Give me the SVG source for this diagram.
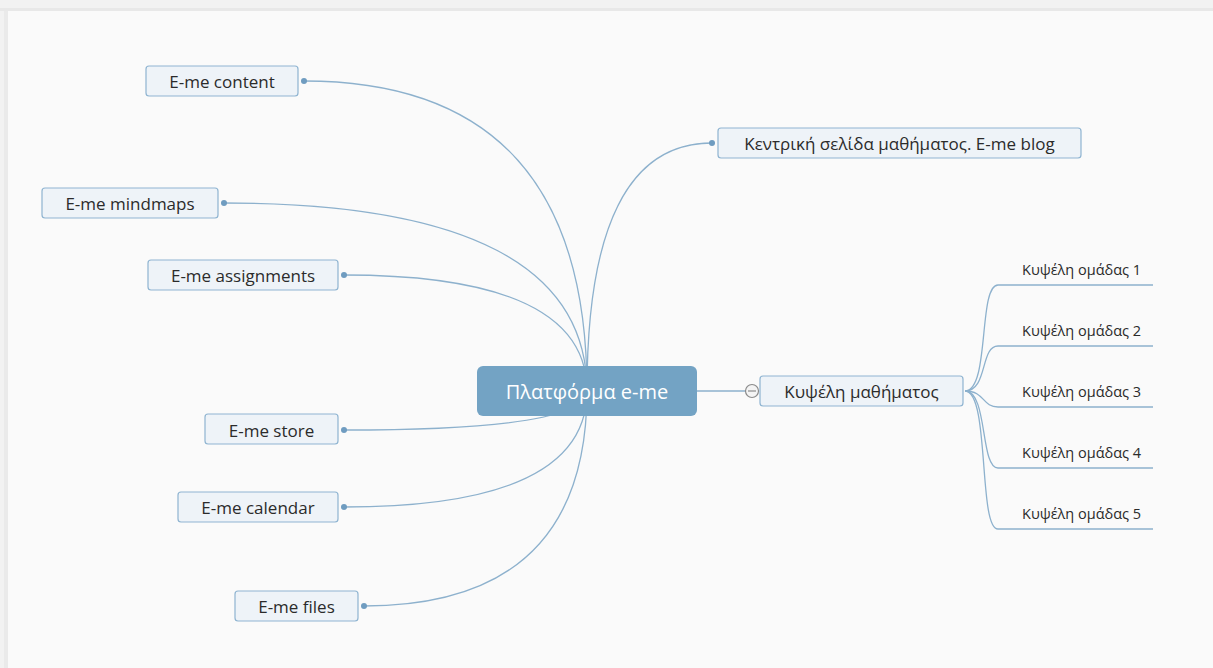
<svg xmlns="http://www.w3.org/2000/svg" width="1213" height="668" viewBox="0 0 1213 668">
<style>
.bg{fill:#fafafa}
.lnk{fill:none;stroke:#8db1cd;stroke-width:1.3}
.dot{fill:#6f9cc0}
.box{fill:#eef3f8;stroke:#8fb4d1;stroke-width:1.2}
.t{font-family:"Open Sans","Noto Sans",sans-serif;font-size:17px;fill:#2b2b2b;text-anchor:middle;dominant-baseline:central}
.st{font-family:"Open Sans","Noto Sans",sans-serif;font-size:14.5px;fill:#2b2b2b}
.ct{font-family:"Open Sans","Noto Sans",sans-serif;font-size:20px;fill:#ffffff;text-anchor:middle;dominant-baseline:central}
</style>
<rect x="0" y="0" width="1213" height="668" fill="#f2f2f2"/>
<rect x="0" y="8" width="1213" height="3" fill="#e8e8e8"/>
<rect x="4" y="11" width="4" height="657" fill="#eaeaea"/>
<rect class="bg" x="8" y="11" width="1205" height="657"/>
<g id="connectors">
<path class="lnk" d="M587 391 Q587 81 304 81"/>
<path class="lnk" d="M587 391 Q587 203 224 203"/>
<path class="lnk" d="M587 391 Q587 275 344 275"/>
<path class="lnk" d="M587 391 Q587 430 344 430"/>
<path class="lnk" d="M587 391 Q587 507 344 507"/>
<path class="lnk" d="M587 391 Q587 606 364 606"/>
<path class="lnk" d="M587 391 Q587 143 712 143"/>
<path class="lnk" d="M697 391 L745 391"/>
<path class="lnk" d="M965 391 C990 391 978 285 998 285 L1153 285"/>
<path class="lnk" d="M965 391 C988 391 980 346 998 346 L1153 346"/>
<path class="lnk" d="M965 391 C985 391 982 407 998 407 L1153 407"/>
<path class="lnk" d="M965 391 C988 391 980 468 998 468 L1153 468"/>
<path class="lnk" d="M965 391 C990 391 978 529 998 529 L1153 529"/>
<circle class="dot" cx="304" cy="81" r="3"/>
<circle class="dot" cx="224" cy="203" r="3"/>
<circle class="dot" cx="344" cy="275" r="3"/>
<circle class="dot" cx="344" cy="430" r="3"/>
<circle class="dot" cx="344" cy="507" r="3"/>
<circle class="dot" cx="364" cy="606" r="3"/>
<circle class="dot" cx="712" cy="143" r="3"/>
</g>
<g id="central">
<rect x="477" y="366" width="220" height="50" rx="6" fill="#73a3c4"/>
<text class="ct" x="587" y="391">Πλατφόρμα e-me</text>
</g>
<g id="content"><rect class="box" x="146" y="66" width="152" height="30" rx="3"/><text class="t" x="222" y="81">E-me content</text></g>
<g id="mindmaps"><rect class="box" x="42" y="188" width="176" height="30" rx="3"/><text class="t" x="130" y="203">E-me mindmaps</text></g>
<g id="assignments"><rect class="box" x="148" y="260" width="190" height="30" rx="3"/><text class="t" x="243" y="275">E-me assignments</text></g>
<g id="store"><rect class="box" x="205" y="414" width="133" height="30" rx="3"/><text class="t" x="271.5" y="430">E-me store</text></g>
<g id="calendar"><rect class="box" x="178" y="492" width="160" height="30" rx="3"/><text class="t" x="258" y="507">E-me calendar</text></g>
<g id="files"><rect class="box" x="235" y="591" width="123" height="30" rx="3"/><text class="t" x="296.5" y="606">E-me files</text></g>
<g id="blog"><rect class="box" x="718" y="128" width="363" height="30" rx="3"/><text class="t" x="899.5" y="143">Κεντρική σελίδα μαθήματος. E-me blog</text></g>
<g id="course-hive">
<circle cx="752" cy="391" r="6.5" fill="#f4f4f4" stroke="#8a8a8a" stroke-width="1.2"/>
<line x1="748" y1="391" x2="756" y2="391" stroke="#8a8a8a" stroke-width="1.2"/>
<rect class="box" x="760" y="376" width="203" height="30" rx="3"/><text class="t" x="861.5" y="391">Κυψέλη μαθήματος</text>
</g>
<g id="group1"><text class="st" x="1022" y="275">Κυψέλη ομάδας 1</text></g>
<g id="group2"><text class="st" x="1022" y="336">Κυψέλη ομάδας 2</text></g>
<g id="group3"><text class="st" x="1022" y="397">Κυψέλη ομάδας 3</text></g>
<g id="group4"><text class="st" x="1022" y="458">Κυψέλη ομάδας 4</text></g>
<g id="group5"><text class="st" x="1022" y="519">Κυψέλη ομάδας 5</text></g>
</svg>
